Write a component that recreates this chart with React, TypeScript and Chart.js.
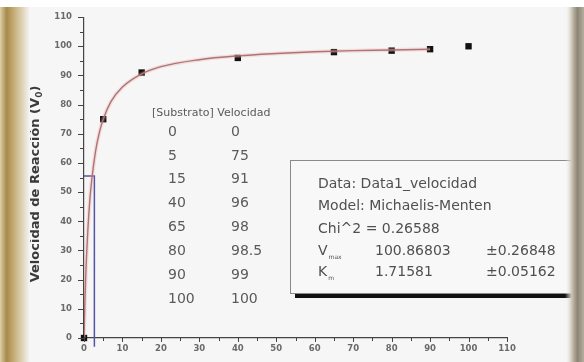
import React, { useEffect, useRef } from 'react';
import { Chart, registerables } from 'chart.js';

Chart.register(...registerables);

// ---- data ----
const substrate = [0, 5, 15, 40, 65, 80, 90, 100];
const velocity = [0, 75, 91, 96, 98, 98.5, 99, 100];
// fitted curve
const fitS = [0, 0.25, 0.5, 1, 1.5, 2, 3, 4, 5, 7, 10, 15, 20, 30, 40, 50, 60, 70, 80, 90];
const fitV = [0, 13, 23, 37, 47, 54, 64, 70.5, 75, 81, 86, 90.5, 93, 95.4, 96.7, 97.5, 98.1, 98.5, 98.7, 99];
// guide lines (Km marker)
const guideX = [0, 2.7, 2.7];
const guideY = [55.5, 55.5, -3];
const xTickValues = [0, 10, 20, 30, 40, 50, 60, 70, 80, 90, 100, 110];
const yTickValues = [0, 10, 20, 30, 40, 50, 60, 70, 80, 90, 100, 110];
const tableHeader = '[Substrato] Velocidad';
const yTitleMain = 'Velocidad de Reacción (V';
const yTitleSub = '0';
const yTitleEnd = ')';
const infoLines = ['Data: Data1_velocidad', 'Model: Michaelis-Menten', 'Chi^2 = 0.26588'];
const paramNames = ['V', 'K'];
const paramSubs = ['max', 'm'];
const paramValues = ['100.86803', '1.71581'];
const paramErrors = ['±0.26848', '±0.05162'];

const BG = '#f6f6f6';

const decorPlugin = {
  id: 'decor',
  beforeDraw(chart: any) {
    const ctx = chart.ctx;
    const W = chart.width, H = chart.height;
    ctx.save();
    ctx.fillStyle = BG;
    ctx.fillRect(0, 0, W, H);
    ctx.fillStyle = '#ffffff';
    ctx.fillRect(0, 0, W, 7);
    ctx.restore();
  },
  beforeDatasetsDraw(chart: any) {
    const ctx = chart.ctx;
    ctx.save();
    // table
    ctx.fillStyle = '#5a5a5a';
    ctx.textBaseline = 'middle';
    ctx.textAlign = 'left';
    ctx.font = '11px "DejaVu Sans"';
    ctx.fillText(tableHeader, 152, 113);
    ctx.font = '14px "DejaVu Sans"';
    substrate.forEach((s, i) => {
      const y = 132 + i * 23.9;
      ctx.fillText(String(s), 168, y);
      ctx.fillText(String(velocity[i]), 231, y);
    });

    // info box
    ctx.fillStyle = '#111';
    ctx.fillRect(295, 293, 290, 5);
    ctx.fillStyle = '#f8f8f8';
    ctx.fillRect(290, 160, 290, 133);
    ctx.strokeStyle = '#8a8a8a';
    ctx.lineWidth = 1;
    ctx.strokeRect(290.5, 160.5, 290, 133);

    ctx.fillStyle = '#505050';
    ctx.textAlign = 'left';
    ctx.font = '14px "DejaVu Sans"';
    infoLines.forEach((t, i) => {
      ctx.fillText(t, 318, 184 + i * 22.5);
    });
    paramNames.forEach((n, i) => {
      const y = 251 + i * 21.5;
      ctx.font = '14px "DejaVu Sans"';
      ctx.fillText(n, 318, y);
      const w = ctx.measureText(n).width;
      ctx.font = '6px "DejaVu Sans"';
      ctx.fillText(paramSubs[i], 318 + w + 1, y + 6);
      ctx.font = '14px "DejaVu Sans"';
      ctx.fillText(paramValues[i], 375, y);
      ctx.fillText(paramErrors[i], 486, y);
    });
    ctx.restore();
  },
  afterDraw(chart: any) {
    const ctx = chart.ctx;
    const W = chart.width, H = chart.height;
    const xs = chart.scales.x, ys = chart.scales.y;
    const area = chart.chartArea;
    ctx.save();
    // tick marks
    ctx.strokeStyle = '#444';
    ctx.lineWidth = 1;
    for (let v = 0; v <= 110; v += 5) {
      const major = v % 10 === 0;
      const py = Math.round(ys.getPixelForValue(v)) + 0.5;
      ctx.beginPath();
      ctx.moveTo(area.left, py);
      ctx.lineTo(area.left - (major ? 6 : 4), py);
      ctx.stroke();
      const px = Math.round(xs.getPixelForValue(v)) + 0.5;
      ctx.beginPath();
      ctx.moveTo(px, area.bottom - (major ? 1 : 0));
      ctx.lineTo(px, area.bottom + (major ? 4 : 3));
      ctx.stroke();
    }

    // y title
    ctx.translate(36, 184);
    ctx.rotate(-Math.PI / 2);
    ctx.fillStyle = '#3a3a3a';
    ctx.textBaseline = 'middle';
    ctx.textAlign = 'left';
    const big = 'bold 13px "DejaVu Sans"';
    const small = 'bold 9px "DejaVu Sans"';
    ctx.font = big;
    const w1 = ctx.measureText(yTitleMain).width;
    const w3 = ctx.measureText(yTitleEnd).width;
    ctx.font = small;
    const w2 = ctx.measureText(yTitleSub).width;
    const start = -(w1 + w2 + w3) / 2;
    ctx.font = big;
    ctx.fillText(yTitleMain, start, 0);
    ctx.font = small;
    ctx.fillText(yTitleSub, start + w1, 4);
    ctx.font = big;
    ctx.fillText(yTitleEnd, start + w1 + w2, 0);
    ctx.setTransform(1, 0, 0, 1, 0, 0);

    // left gold border
    const gl = ctx.createLinearGradient(0, 0, 30, 0);
    gl.addColorStop(0, '#ddd0a8');
    gl.addColorStop(0.22, '#a88a4a');
    gl.addColorStop(0.5, '#c9b27e');
    gl.addColorStop(1, BG);
    ctx.fillStyle = gl;
    ctx.fillRect(0, 7, 30, H - 7);
    // right grey border
    const gr = ctx.createLinearGradient(565, 0, W, 0);
    gr.addColorStop(0, 'rgba(246,246,246,0)');
    gr.addColorStop(0.35, '#ccc6b6');
    gr.addColorStop(0.65, '#8c8474');
    gr.addColorStop(1, '#b4ae9e');
    ctx.fillStyle = gr;
    ctx.fillRect(565, 7, W - 565, H - 7);
    ctx.restore();
  },
};

export default function App() {
  const ref = useRef<HTMLCanvasElement | null>(null);
  useEffect(() => {
    if (!ref.current) return;
    const tickFont = { family: '"DejaVu Sans"', size: 8.5, weight: 'bold' as const };
    const chart = new Chart(ref.current, {
      type: 'scatter',
      data: {
        datasets: [
          {
            label: 'glow',
            data: fitS.map((s, i) => ({ x: s, y: fitV[i] })),
            showLine: true,
            borderColor: 'rgba(235,160,160,0.28)',
            borderWidth: 4,
            pointRadius: 0,
            cubicInterpolationMode: 'monotone',
          },
          {
            label: 'fit',
            data: fitS.map((s, i) => ({ x: s, y: fitV[i] })),
            showLine: true,
            borderColor: '#9a6262',
            borderWidth: 1.4,
            pointRadius: 0,
            cubicInterpolationMode: 'monotone',
          },
          {
            label: 'guide',
            data: guideX.map((x, i) => ({ x, y: guideY[i] })),
            showLine: true,
            borderColor: '#5454a4',
            borderWidth: 1.5,
            pointRadius: 0,
            clip: false as any,
          },
          {
            label: 'data',
            data: substrate.map((s, i) => ({ x: s, y: velocity[i] })),
            showLine: false,
            pointStyle: 'rect',
            pointRadius: 4.5,
            backgroundColor: '#111',
            borderColor: '#111',
            borderWidth: 0,
            clip: false as any,
          },
        ],
      },
      options: {
        responsive: false,
        animation: false,
        events: [],
        layout: { padding: { left: 0, right: 77, top: 13, bottom: 0 } },
        plugins: { legend: { display: false }, tooltip: { enabled: false } },
        scales: {
          x: {
            type: 'linear',
            min: 0,
            max: 110,
            afterBuildTicks: (s: any) => { s.ticks = xTickValues.map((v) => ({ value: v })); },
            afterFit: (s: any) => { s.height = 24; },
            grid: { display: false, drawTicks: false },
            border: { display: true, color: '#444', width: 1.2 },
            ticks: { color: '#6a6a6a', font: tickFont, padding: 6, maxRotation: 0, autoSkip: false },
          },
          y: {
            type: 'linear',
            min: 0,
            max: 110,
            afterBuildTicks: (s: any) => { s.ticks = yTickValues.map((v) => ({ value: v })); },
            afterFit: (s: any) => { s.width = 84; },
            grid: { display: false, drawTicks: false },
            border: { display: true, color: '#444', width: 1.2 },
            ticks: { color: '#6a6a6a', font: tickFont, padding: 12, autoSkip: false },
          },
        },
      },
      plugins: [decorPlugin],
    });
    return () => chart.destroy();
  }, []);
  return (
    <div style={{ position: 'fixed', left: 0, top: 0, width: 584, height: 362 }}>
      <canvas ref={ref} width={584} height={362} style={{ display: 'block', width: 584, height: 362 }} />
    </div>
  );
}
